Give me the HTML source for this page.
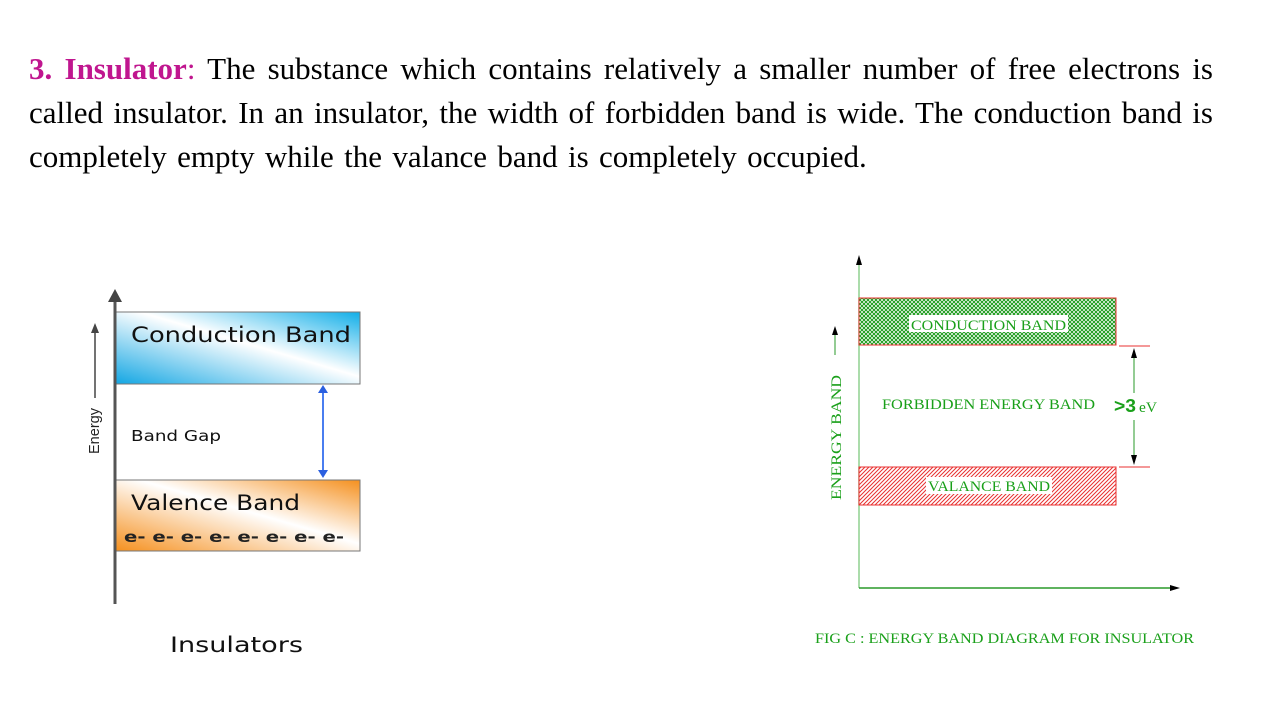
<!DOCTYPE html>
<html><head><style>
body{margin:0;width:1280px;height:720px;background:#fff;position:relative;overflow:hidden;font-family:"Liberation Serif",serif}
.l{position:absolute;left:29px;width:1184px;font-size:31px;line-height:44px;color:#000;white-space:nowrap}
.j{text-align:justify;text-align-last:justify}
</style></head><body>
<div class="l j" style="top:47px"><span style="color:#c0168f;font-weight:bold">3. Insulator</span><span style="color:#c0168f">:</span> The substance which contains relatively a smaller number of free electrons is</div>
<div class="l j" style="top:91px">called insulator. In an insulator, the width of forbidden band is wide. The conduction band is</div>
<div class="l" style="top:135px;word-spacing:2.6px">completely empty while the valance band is completely occupied.</div>
<svg width="1280" height="720" style="position:absolute;left:0;top:0">
<defs>
<linearGradient id="cb" x1="0" y1="1" x2="1" y2="0"><stop offset="0" stop-color="#12a6e3"/><stop offset="0.55" stop-color="#fff"/><stop offset="1" stop-color="#10aee8"/></linearGradient>
<linearGradient id="vb" x1="0" y1="1" x2="1" y2="0"><stop offset="0" stop-color="#f5901e"/><stop offset="0.55" stop-color="#fff"/><stop offset="1" stop-color="#f5901e"/></linearGradient>
<pattern id="cross" width="4" height="4" patternUnits="userSpaceOnUse"><rect width="4" height="4" fill="#fff"/><path d="M0 0L4 4M4 0L0 4" stroke="#1a9a1a" stroke-width="1"/></pattern>
<pattern id="hatch" width="4" height="4" patternUnits="userSpaceOnUse"><rect width="4" height="4" fill="#fff"/><path d="M0 4L4 0M-1 1L1 -1M3 5L5 3" stroke="#e83030" stroke-width="1"/></pattern>
</defs>
<g font-family="DejaVu Sans,sans-serif">
<rect x="115" y="312" width="245" height="72" fill="url(#cb)" stroke="#777"/>
<rect x="115" y="480" width="245" height="71" fill="url(#vb)" stroke="#777"/>
<line x1="115" y1="298" x2="115" y2="604" stroke="#555" stroke-width="3"/>
<path d="M108 302L115 289L122 302Z" fill="#444"/>
<line x1="95" y1="330" x2="95" y2="398" stroke="#444" stroke-width="1.5"/>
<path d="M91 333L95 323L99 333Z" fill="#444"/>
<text transform="translate(99,454) rotate(-90)" font-family="Liberation Sans Narrow,Liberation Sans,sans-serif" font-size="15" fill="#222" textLength="46" lengthAdjust="spacingAndGlyphs">Energy</text>
<text x="131" y="342" font-size="21" fill="#111" textLength="220" lengthAdjust="spacingAndGlyphs">Conduction Band</text>
<text x="131" y="441" font-size="15" fill="#111" textLength="90" lengthAdjust="spacingAndGlyphs">Band Gap</text>
<text x="131" y="510" font-size="21" fill="#111" textLength="169" lengthAdjust="spacingAndGlyphs">Valence Band</text>
<text x="124" y="542" font-size="15" font-weight="bold" fill="#222" textLength="220" lengthAdjust="spacingAndGlyphs">e- e- e- e- e- e- e- e-</text>
<line x1="323" y1="390" x2="323" y2="473" stroke="#4a7ef0" stroke-width="2"/>
<path d="M318 393L323 385L328 393Z M318 470L323 478L328 470Z" fill="#2a5fe0"/>
<text x="170" y="652" font-size="21" fill="#111" textLength="133" lengthAdjust="spacingAndGlyphs">Insulators</text>
</g>
<line x1="859" y1="262" x2="859" y2="588" stroke="#8fd08f" stroke-width="1.5"/>
<path d="M856 265L859 255L862 265Z" fill="#000"/>
<line x1="859" y1="588" x2="1172" y2="588" stroke="#2a9a2a" stroke-width="1.5"/>
<path d="M1170 585L1180 588L1170 591Z" fill="#000"/>
<rect x="859" y="298" width="257" height="47" fill="url(#cross)" stroke="#e83030"/>
<rect x="859" y="467" width="257" height="38" fill="url(#hatch)" stroke="#e83030"/>
<rect x="909" y="315" width="159" height="17" fill="#fff"/>
<text x="911" y="330" font-size="15" fill="#1aa01a" textLength="155" lengthAdjust="spacingAndGlyphs">CONDUCTION BAND</text>
<rect x="926" y="477" width="126" height="17" fill="#fff"/>
<text x="928" y="491" font-size="15" fill="#1aa01a" textLength="122" lengthAdjust="spacingAndGlyphs">VALANCE BAND</text>
<text x="882" y="409" font-size="15" fill="#1aa01a" textLength="213" lengthAdjust="spacingAndGlyphs">FORBIDDEN ENERGY BAND</text>
<text x="1114" y="412" font-family="Liberation Sans Narrow,Liberation Sans,sans-serif" font-size="18" font-weight="bold" fill="#1aa01a" textLength="22" lengthAdjust="spacingAndGlyphs">&gt;3</text>
<text x="1139" y="412" font-size="15" fill="#1aa01a" textLength="18" lengthAdjust="spacingAndGlyphs">eV</text>
<line x1="1119" y1="346" x2="1150" y2="346" stroke="#e83030"/>
<line x1="1119" y1="467" x2="1150" y2="467" stroke="#e83030"/>
<line x1="1134" y1="350" x2="1134" y2="393" stroke="#2a9a2a"/>
<line x1="1134" y1="420" x2="1134" y2="463" stroke="#2a9a2a"/>
<path d="M1131 358L1134 348L1137 358Z M1131 455L1134 465L1137 455Z" fill="#000"/>
<line x1="835" y1="333" x2="835" y2="355" stroke="#2a9a2a"/>
<path d="M832 335L835 326L838 335Z" fill="#000"/>
<text transform="translate(841,500) rotate(-90)" font-size="15" fill="#1aa01a" textLength="125" lengthAdjust="spacingAndGlyphs">ENERGY BAND</text>
<text x="815" y="643" font-size="15" fill="#1aa01a" textLength="379" lengthAdjust="spacingAndGlyphs">FIG C : ENERGY BAND DIAGRAM FOR INSULATOR</text>
</svg>
</body></html>
